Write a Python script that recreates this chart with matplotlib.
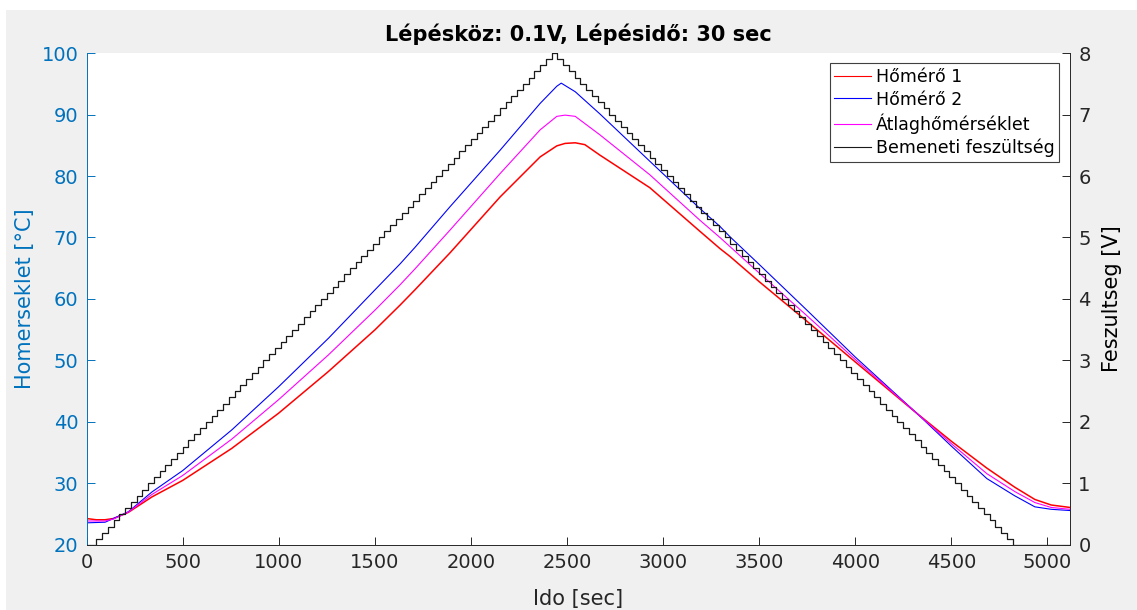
#! /usr/bin/env python3

import numpy as np
from matplotlib import pyplot as plt
from matplotlib.lines import Line2D
from matplotlib.patches import Rectangle

# temperatures (time in sec, temperature in C)
t_h1 = [0, 50, 96, 139, 217, 339, 500, 755, 998, 1258, 1501, 1631, 1709,
        1891, 2152, 2360, 2447, 2490, 2543, 2593, 2671, 2931, 3192, 3296,
        3349, 3501, 3748, 3999, 4321, 4503, 4685, 4830, 4935, 5020, 5118]
h1 = [24.3, 24.1, 24.1, 24.3, 25.3, 27.8, 30.5, 35.7, 41.4, 48.2, 55.0, 59.0,
      61.5, 67.5, 76.6, 83.1, 84.9, 85.3, 85.4, 85.1, 83.4, 78.1, 71.0, 68.2,
      66.9, 62.8, 56.4, 49.8, 41.4, 36.8, 32.5, 29.4, 27.4, 26.5, 26.1]

t_h2 = [0, 96, 139, 217, 339, 500, 755, 998, 1258, 1501, 1631, 1709, 1891,
        2152, 2360, 2447, 2470, 2543, 2671, 2931, 3192, 3296, 3349, 3501,
        3748, 3999, 4321, 4503, 4685, 4830, 4935, 5020, 5118]
h2 = [23.6, 23.7, 24.3, 25.4, 28.6, 32.1, 38.7, 45.7, 53.6, 61.5, 65.7, 68.4,
      75.0, 84.2, 91.8, 94.6, 95.1, 93.7, 90.1, 82.4, 74.7, 71.8, 70.1, 65.6,
      58.2, 50.6, 41.4, 36.0, 30.8, 28.0, 26.2, 25.8, 25.6]

t_avg = [0, 96, 139, 217, 339, 500, 755, 998, 1258, 1501, 1631, 1709, 1891,
         2152, 2360, 2447, 2490, 2543, 2671, 2931, 3192, 3296, 3349, 3501,
         3748, 3999, 4321, 4503, 4685, 4830, 4935, 5020, 5118]
h_avg = [23.9, 23.9, 24.2, 25.35, 28.2, 31.3, 37.2, 43.6, 50.9, 58.2, 62.3,
         64.9, 71.2, 80.4, 87.5, 89.7, 89.9, 89.7, 86.7, 80.2, 72.8, 70.0,
         68.5, 64.2, 57.3, 50.2, 41.4, 36.4, 31.6, 28.7, 26.9, 26.1, 25.8]

# input voltage protocol, from the title: 0.1 V steps, 30 sec each
V_STEP = 0.1
T_STEP = 30
T_START = 50
V_PEAK = 8.0
T_END = 5118

labels = ["Hőmérő 1", "Hőmérő 2", "Átlaghőmérséklet", "Bemeneti feszültség"]

# build the staircase
n_up = int(round(V_PEAK / V_STEP))
levels = np.concatenate([np.arange(0, n_up + 1), np.arange(n_up - 1, -1, -1)]) * V_STEP
t_volt = np.concatenate([[0], T_START + T_STEP * np.arange(len(levels) - 1), [T_END]])
volt = np.concatenate([levels, [levels[-1]]])

plt.rcParams["font.family"] = "DejaVu Sans"

c_left = "#0072BD"
c_dark = "#262626"

fig = plt.figure(figsize=(11.37, 6.10), dpi=100, facecolor="white")
# gray figure background with the thin white border top/left
fig.patches.append(
    Rectangle((6 / 1137, 0), 1, 600 / 610, transform=fig.transFigure,
              fc="#f0f0f0", ec="none", zorder=-10)
)

ax = fig.add_axes([0.0762, 0.1066, 0.8649, 0.8065])
tax = ax.twinx()

ax.plot(t_h1, h1, c="#ff0000", lw=1.1)
ax.plot(t_h2, h2, c="#0000ff", lw=0.8)
ax.plot(t_avg, h_avg, c="#ff00ff", lw=0.8)
tax.plot(t_volt, volt, c="#1a1a1a", lw=0.9, drawstyle="steps-post")

# limits and ticks
ax.set_xlim(0, T_END)
ax.set_ylim(20, 100)
tax.set_ylim(0, 8)
ax.set_xticks(np.arange(0, 5001, 500))
ax.set_yticks(np.arange(20, 101, 10))
tax.set_yticks(np.arange(0, 9, 1))

kw_tick = {"direction": "in", "length": 6, "width": 0.7, "labelsize": 14}
ax.tick_params(axis="x", colors=c_dark, pad=6, **kw_tick)
ax.tick_params(axis="y", colors=c_left, pad=6, **kw_tick)
tax.tick_params(axis="y", colors=c_dark, pad=6, **kw_tick)

# spines, matlab yyaxis look (box off)
ax.spines["top"].set_visible(False)
ax.spines["right"].set_visible(False)
ax.spines["left"].set_color(c_left)
ax.spines["bottom"].set_color(c_dark)
for s in ("top", "left", "bottom"):
    tax.spines[s].set_visible(False)
tax.spines["right"].set_color(c_dark)
for s in (ax.spines["left"], ax.spines["bottom"], tax.spines["right"]):
    s.set_linewidth(0.7)

# labels
ax.set_xlabel("Ido [sec]", fontsize=15, color=c_dark, labelpad=12)
ax.set_ylabel("Homerseklet [°C]", fontsize=15, color=c_left)
tax.set_ylabel("Feszultseg [V]", fontsize=15, color="black")
ax.yaxis.set_label_coords(-0.053, 0.5)
tax.yaxis.set_label_coords(1.033, 0.5)
ax.set_title("Lépésköz: 0.1V, Lépésidő: 30 sec", fontsize=15,
             fontweight="bold", pad=9)

# legend
handles = [
    Line2D([], [], c="#ff0000", lw=0.8),
    Line2D([], [], c="#0000ff", lw=0.8),
    Line2D([], [], c="#ff00ff", lw=0.8),
    Line2D([], [], c="#1a1a1a", lw=0.8),
]
leg = tax.legend(handles, labels, loc="upper right", bbox_to_anchor=(0.9888, 0.979),
                 borderaxespad=0, fontsize=12.5, fancybox=False, framealpha=1,
                 edgecolor="#404040", handlelength=2.1, handletextpad=0.3,
                 labelspacing=0.28, borderpad=0.25)
leg.get_frame().set_linewidth(0.8)

fig.savefig("out.png", dpi=100)
